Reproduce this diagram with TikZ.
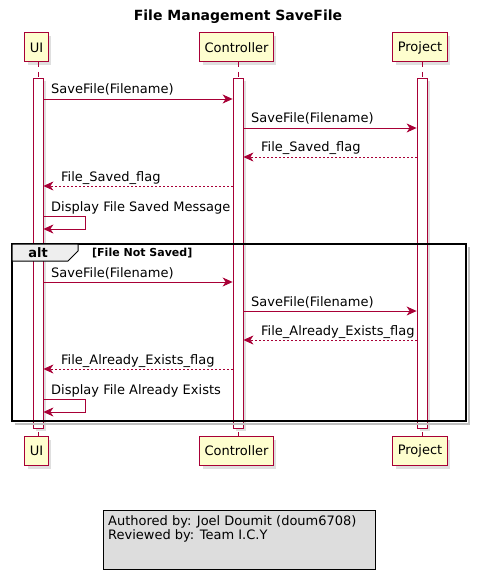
\documentclass[tikz,border=0pt]{standalone}
\usepackage{fontspec}
\setmainfont{DejaVu Sans}
\usetikzlibrary{arrows.meta}
\usetikzlibrary{shadows}
\definecolor{umlred}{HTML}{A80036}
\definecolor{umlyellow}{HTML}{FEFECE}
\definecolor{tabgray}{HTML}{EEEEEE}
\definecolor{legendgray}{HTML}{DDDDDD}
\tikzset{
    umlshadow/.style={drop shadow={shadow xshift=3pt, shadow yshift=-3pt, opacity=0.25}},
    participant/.style={draw=umlred, fill=umlyellow, line width=1pt, minimum height=29pt, inner xsep=5pt, font=\fontsize{13}{15}\selectfont, umlshadow},
    lifeline/.style={umlred, line width=0.8pt, dash pattern=on 5pt off 5pt},
    actbar/.style={draw=umlred, fill=white, line width=0.8pt, minimum width=10pt, minimum height=350pt, inner sep=0pt, umlshadow},
    msgarrow/.style={arrows={-Stealth[length=10pt, width=9pt, inset=3pt]}, umlred, line width=0.8pt},
    retarrow/.style={msgarrow, dash pattern=on 2pt off 2pt},
    msglabel/.style={anchor=base west, inner sep=0pt, font=\fontsize{13}{15}\selectfont}
}

\begin{document}
\begin{tikzpicture}[x=1pt, y=-1pt]
    \useasboundingbox (0,0) rectangle (476,580);
    \node[font=\bfseries\fontsize{14}{16}\selectfont] (title) at (238,17) {File Management SaveFile};

    % lifelines
    \node[participant] (ui) at (36.5,47.5) {UI};
    \node[participant] (ctrl) at (236.5,47.5) {Controller};
    \node[participant] (proj) at (420,47.5) {Project};
    \node[participant] (uib) at (36.5,451) {UI};
    \node[participant] (ctrlb) at (236.5,451) {Controller};
    \node[participant] (projb) at (420,451) {Project};
    \draw[lifeline] (38,62) -- (38,436);
    \draw[lifeline] (238,62) -- (238,436);
    \draw[lifeline] (422,62) -- (422,436);

    \node[actbar, anchor=north] (uiact) at (38,78) {};
    \node[actbar, anchor=north] (ctrlact) at (238,78) {};
    \node[actbar, anchor=north] (projact) at (422,78) {};

    % alt frame
    \draw[black!25, line width=2pt] (469,247) -- (469,424) -- (15,424);
    \draw[black, line width=1.5pt] (12,244) rectangle (466,421);
    \draw[black, fill=tabgray, line width=1pt] (12,244) -- (78,244) -- (78,251) -- (68,261) -- (12,261) -- cycle;
    \node[font=\bfseries\fontsize{13}{15}\selectfont] (altlabel) at (38,252.5) {alt};
    \node[anchor=base west, inner sep=0pt, font=\bfseries\fontsize{11}{13}\selectfont] (altcond) at (92,256.5) {[File Not Saved]};

    % messages
    \coordinate (r1) at (0,99);
    \coordinate (r2) at (0,128);
    \coordinate (r3) at (0,157);
    \coordinate (r4) at (0,186);
    \coordinate (r5) at (0,216);
    \coordinate (r5b) at (0,229);
    \coordinate (r6) at (0,282);
    \coordinate (r7) at (0,311);
    \coordinate (r8) at (0,340);
    \coordinate (r9) at (0,369);
    \coordinate (r10) at (0,399);
    \coordinate (r10b) at (0,412);

    \draw[msgarrow] (uiact.east |- r1) -- (ctrlact.west |- r1);
    \node[msglabel] at (51,94) {SaveFile(Filename)};
    \draw[msgarrow] (ctrlact.east |- r2) -- (projact.west |- r2);
    \node[msglabel] at (251,123) {SaveFile(Filename)};
    \draw[retarrow] (projact.west |- r3) -- (ctrlact.east |- r3);
    \node[msglabel] at (261,152) {File\_Saved\_flag};
    \draw[retarrow] (ctrlact.west |- r4) -- (uiact.east |- r4);
    \node[msglabel] at (61,181) {File\_Saved\_flag};
    \draw[msgarrow] (uiact.east |- r5) -- (85,216) -- (85,229) -- (uiact.east |- r5b);
    \node[msglabel] at (51,211) {Display File Saved Message};

    \draw[msgarrow] (uiact.east |- r6) -- (ctrlact.west |- r6);
    \node[msglabel] at (51,277) {SaveFile(Filename)};
    \draw[msgarrow] (ctrlact.east |- r7) -- (projact.west |- r7);
    \node[msglabel] at (251,306) {SaveFile(Filename)};
    \draw[retarrow] (projact.west |- r8) -- (ctrlact.east |- r8);
    \node[msglabel] at (261,335) {File\_Already\_Exists\_flag};
    \draw[retarrow] (ctrlact.west |- r9) -- (uiact.east |- r9);
    \node[msglabel] at (61,364) {File\_Already\_Exists\_flag};
    \draw[msgarrow] (uiact.east |- r10) -- (85,399) -- (85,412) -- (uiact.east |- r10b);
    \node[msglabel] at (51,394) {Display File Already Exists};

    % legend
    \node[draw=black, fill=legendgray, line width=1pt, minimum width=272pt, minimum height=59pt, anchor=north west] (legend) at (103,510) {};
    \node[anchor=north west, align=left, inner sep=0pt, font=\fontsize{13}{14}\selectfont] (legendtext) at (108,515) {Authored by: Joel Doumit (doum6708)\\Reviewed by: Team I.C.Y};
\end{tikzpicture}
\end{document}
